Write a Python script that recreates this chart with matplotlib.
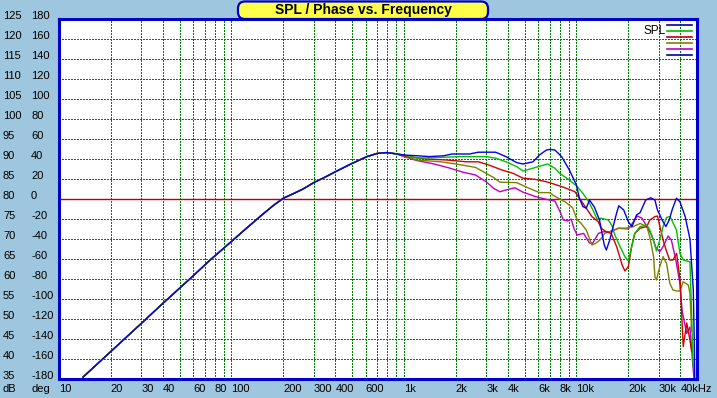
import matplotlib
matplotlib.use('Agg')
import matplotlib.pyplot as plt
import matplotlib.transforms as mtrans
from matplotlib.patches import FancyBboxPatch
from matplotlib.lines import Line2D

# ---------------- data ----------------
low_f = [13.8, 20, 30, 40, 50, 60, 75, 100, 120, 150, 175, 200, 230, 260, 300, 350, 400, 500, 610, 700, 790, 900]
low_db = [35.5, 41.9, 48.9, 53.9, 57.7, 60.8, 64.7, 69.4, 72.4, 76.0, 78.4, 80.2, 81.4, 82.5, 84.1, 85.5, 86.8,
          88.9, 90.6, 91.4, 91.6, 91.3]

blue_f = [1000, 1200, 1400, 1700, 1900, 2400, 2700, 3400, 3900, 4500, 4900, 5600, 6100, 6700, 7000, 7500,
          8200, 9100, 10000, 10400, 10900, 11400, 11900, 12700, 13600, 14500, 14900, 15600, 16300, 17100,
          17600, 18800, 20000, 21000, 22300, 23400, 25200, 27000, 28500, 29500, 31400, 33000, 34500, 36000,
          38000, 39800, 42700, 45500, 47600, 48200, 48500]
blue_db = [91.0, 90.8, 90.6, 90.8, 91.25, 91.25, 91.7, 91.7, 90.6, 89.1, 88.75, 89.3, 91.0, 92.25, 92.4, 92.25,
           90.6, 87.25, 83.5, 80.2, 78.1, 77.7, 79.75, 78.0, 74.75, 68.5, 67.25, 69.75, 73.0, 76.5,
           78.3, 77.25, 74.3, 73.1, 76.0, 76.6, 79.75, 80.3, 79.75, 77.25, 74.75, 73.1, 74.75, 77.5,
           80.2, 79.3, 75.6, 70.0, 57.25, 45.0, 35.0]

green_f = [1000, 1190, 1630, 2100, 3000, 3400, 3900, 4500, 4900, 5600, 6800, 7500, 8000, 9100, 10100, 10900,
           11800, 12600, 13200, 13900, 15300, 16000, 16700, 17900, 19100, 20000, 20900, 21800, 23400, 25600,
           26600, 28500, 29100, 30400, 31800, 33300, 34900, 38000, 39800, 41600, 45500, 46500, 47500]
green_db = [91.0, 90.2, 90.4, 90.6, 90.6, 90.2, 89.3, 88.1, 87.0, 87.7, 88.75, 87.7, 86.4, 84.75, 83.1, 81.4,
            79.3, 76.8, 74.9, 75.2, 74.75, 73.5, 71.0, 68.1, 65.6, 64.5, 68.1, 71.4, 73.1, 73.5,
            72.25, 68.5, 67.0, 69.75, 73.1, 75.4, 75.6, 72.25, 66.4, 64.75, 64.3, 52.0, 38.0]

red_f = [1000, 1340, 1770, 2300, 2700, 3100, 3700, 4300, 4900, 5800, 6700, 7200, 8200, 9100, 9800, 10400,
         11400, 12300, 13400, 13900, 14900, 15900, 17100, 18400, 19100, 20000, 20900, 21800, 23400, 25600,
         26600, 28500, 29500, 31800, 33100, 34700, 36300, 38100, 39900, 41600, 43600, 45500, 46500]
red_db = [90.8, 90.0, 89.75, 89.3, 89.3, 88.5, 87.25, 86.4, 85.2, 84.9, 84.3, 83.9, 83.1, 82.4, 81.8, 80.2,
          77.7, 75.6, 74.3, 72.7, 71.8, 71.4, 68.1, 63.5, 62.0, 63.1, 68.1, 71.4, 72.7, 73.1,
          74.75, 75.6, 75.75, 69.75, 67.25, 64.75, 64.75, 66.4, 59.75, 43.1, 49.0, 44.75, 42.0]

olive_f = [1000, 1190, 1630, 2000, 2600, 3000, 3300, 3600, 4500, 5300, 6100, 7000, 7300, 8000, 8600, 9500,
           10100, 10600, 11400, 12300, 12900, 13700, 14600, 15900, 17600, 19400, 21400, 23400, 25600, 26600,
           28000, 28500, 29100, 30400, 31800, 33300, 34800, 36300, 38000, 39800, 41600, 44500, 45500, 46500]
olive_db = [90.75, 89.75, 89.3, 88.75, 87.9, 86.4, 85.4, 84.2, 84.1, 82.7, 81.6, 81.6, 81.0, 80.0, 79.3, 77.8,
            74.75, 74.0, 72.25, 68.5, 68.9, 69.75, 71.4, 72.0, 72.7, 72.7, 73.1, 73.9, 73.1, 70.6,
            65.6, 60.6, 59.75, 63.1, 65.6, 63.9, 58.9, 57.25, 57.0, 57.0, 59.3, 58.5, 56.5, 47.0]

magenta_f = [1000, 1190, 1500, 1850, 2200, 2600, 3000, 3300, 3600, 3900, 4400, 4900, 5800, 6700, 7500, 8000,
             8400, 8900, 9300, 9700, 10100, 11000, 11900, 12400, 13400, 14300, 15600, 17600, 20000, 21400,
             22500, 24000, 25600, 27300, 28800, 30400, 31800, 34000, 35500, 37700, 39800, 41000, 43600, 45500,
             47000, 48000]
magenta_db = [90.6, 89.6, 88.75, 87.7, 86.7, 86.0, 84.3, 82.7, 81.8, 82.25, 82.8, 81.7, 80.6, 79.9, 79.5, 77.0,
              74.75, 74.5, 75.0, 72.5, 71.0, 71.4, 69.0, 68.9, 71.4, 71.8, 71.8, 72.7, 72.5, 74.3,
              75.75, 75.2, 73.1, 71.0, 68.0, 66.8, 68.1, 70.75, 69.75, 64.75, 58.9, 52.0, 46.4, 48.0,
              40.0, 35.0]

series = [
    ("#0000E8", blue_f, blue_db),
    ("#00C000", green_f, green_db),
    ("#D00000", red_f, red_db),
    ("#808000", olive_f, olive_db),
    ("#C000C0", magenta_f, magenta_db),
]
legend_colors = ["#0000A8", "#00C000", "#C00000", "#808000", "#C000C0", "#0000A8"]

major_x = [10, 20, 30, 40, 60, 80, 100, 200, 300, 400, 600, 1000, 2000, 3000, 4000, 6000, 8000,
           10000, 20000, 30000, 40000]
major_x_labels = ["10", "20", "30", "40", "60", "80", "100", "200", "300", "400", "600", "1k", "2k",
                  "3k", "4k", "6k", "8k", "10k", "20k", "30k", "40kHz"]
minor_x = [50, 70, 90, 500, 700, 800, 900, 5000, 7000, 9000]
db_ticks = list(range(35, 126, 5))
deg_labels = [str(v) for v in range(-180, 181, 20)]
title = "SPL / Phase vs. Frequency"

# ---------------- styling ----------------
BG = "#9EC6DE"
BLUE = "#0000CC"
W, H = 717, 398
plt.rcParams['font.family'] = ['Liberation Sans', 'DejaVu Sans']

fig = plt.figure(figsize=(W / 100, H / 100), dpi=100, facecolor=BG)
ax = fig.add_axes([59 / W, (H - 379) / H, 638 / W, 360 / H])
ax.set_facecolor("white")
ax.set_xscale('log')
ax.set_xlim(10, 50000)
ax.set_ylim(35, 125)

ax.set_xticks(major_x)
ax.set_xticklabels(major_x_labels)
ax.set_xticks(minor_x, minor=True)
ax.xaxis.set_minor_formatter(matplotlib.ticker.NullFormatter())
ax.set_yticks(db_ticks)
ax.set_yticklabels([])
ax.tick_params(which='both', length=0)
ax.tick_params(axis='x', pad=3.5, labelsize=8, colors='black')
for lab in ax.get_xticklabels():
    lab.set_horizontalalignment('left')

ax.grid(which='both', color='#008000', linestyle=(0, (1, 1)), linewidth=0.75,
        antialiased=False, zorder=0)
ax.set_axisbelow(True)
for s in ax.spines.values():
    s.set_color(BLUE)
    s.set_linewidth(2.2)
    s.set_zorder(5)

ax.axhline(80, color="#C00000", lw=1.0, zorder=1.5)

for color, f, db in reversed(series):
    ax.plot(low_f + f, low_db + db, color=color, lw=1.0, zorder=2)

# y labels: dB and deg columns
bt = mtrans.blended_transform_factory(fig.transFigure, ax.transData)
for v, dl in zip(db_ticks, deg_labels):
    ax.text(3 / W, v, str(v), transform=bt, ha='left', va='baseline', fontsize=8, clip_on=False)
    ax.text(31 / W, v, dl, transform=bt, ha='left', va='baseline', fontsize=8, clip_on=False)
fig.text(3 / W, (H - 384) / H, "dB", ha='left', va='top', fontsize=8)
fig.text(31 / W, (H - 384) / H, "deg", ha='left', va='top', fontsize=8)

# title box
box = FancyBboxPatch((2.38, H / 100 - 0.19), 2.50, 0.175,
                     boxstyle="round,pad=0,rounding_size=0.07",
                     transform=fig.dpi_scale_trans, facecolor="#FFFF48",
                     edgecolor=BLUE, linewidth=1.6, zorder=10)
fig.add_artist(box)
fig.text(363 / W, (H - 10) / H, title, ha='center', va='center', fontsize=10,
         fontweight='bold', zorder=11)

# legend
fig.text(643 / W, (H - 31) / H, "SPL", ha='left', va='center', fontsize=8.5, zorder=11)
for i, c in enumerate(legend_colors):
    y = (H - (25 + 6 * i)) / H
    fig.add_artist(Line2D([667 / W, 692 / W], [y, y], color=c, lw=1.2, zorder=11))

fig.savefig("out.png", dpi=100, facecolor=BG)
